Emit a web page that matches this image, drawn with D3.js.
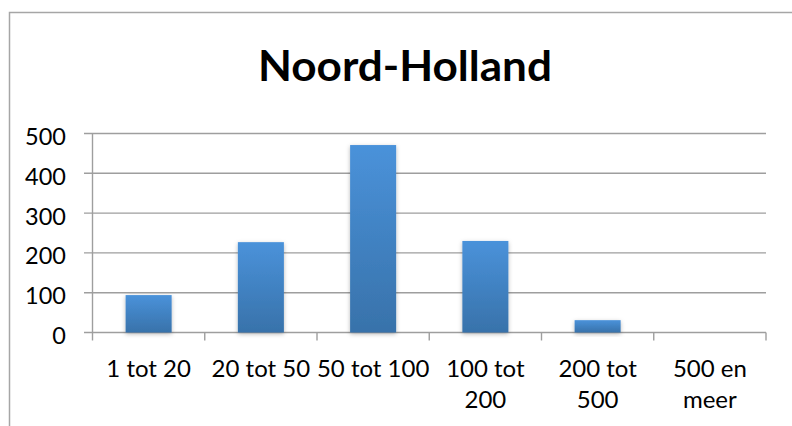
<!DOCTYPE html>
<html><head><meta charset="utf-8">
<script src="https://cdn.jsdelivr.net/npm/d3@7"></script>
<style>html,body{margin:0;padding:0;background:#fff;}svg{display:block;}</style>
</head><body>
<svg id="c" width="792" height="426"></svg>
<script>
const title = "Noord-Holland";
const categories = ["1 tot 20", "20 tot 50", "50 tot 100", "100 tot\n200", "200 tot\n500", "500 en\nmeer"];
const values = [94, 227, 471, 230, 31, 0];
const yTicks = [0, 100, 200, 300, 400, 500];

const svg = d3.select("#c");
const FONT = "Lato, 'Open Sans', sans-serif";
const gridColor = "#9e9e9e";

// frame
svg.append("path").attr("d", "M9.5,426 V12.5 H792").attr("fill", "none")
  .attr("stroke", "#a6a6a6").attr("stroke-width", 1.5);

const x = d3.scaleBand().domain(categories).range([92.5, 766]).padding(0);
const y = d3.scaleLinear().domain([0, 500]).range([332.5, 133.5]);

// defs
const defs = svg.append("defs");
const grad = defs.append("linearGradient").attr("id", "bg").attr("x1", 0).attr("y1", 0).attr("x2", 0).attr("y2", 1);
grad.append("stop").attr("offset", "0%").attr("stop-color", "#4a92da");
grad.append("stop").attr("offset", "100%").attr("stop-color", "#3872aa");
const f = defs.append("filter").attr("id", "sh").attr("x", "-30%").attr("y", "-30%").attr("width", "160%").attr("height", "160%");
f.append("feDropShadow").attr("dx", 0).attr("dy", 1.5).attr("stdDeviation", 2).attr("flood-color", "#000").attr("flood-opacity", 0.28);

// gridlines
svg.append("g").selectAll("line").data(yTicks).join("line")
  .attr("x1", 84).attr("x2", 766)
  .attr("y1", d => y(d)).attr("y2", d => y(d))
  .attr("stroke", gridColor).attr("stroke-width", 1.4);

// y axis line
svg.append("line").attr("x1", 92.5).attr("x2", 92.5).attr("y1", y(500)).attr("y2", 340.5)
  .attr("stroke", gridColor).attr("stroke-width", 1.4);

// x ticks at band boundaries
const bounds = categories.map(c => x(c)).concat([x.range()[1]]).slice(1);
svg.append("g").selectAll("line").data(bounds).join("line")
  .attr("x1", d => d).attr("x2", d => d).attr("y1", y(0)).attr("y2", 340.5)
  .attr("stroke", gridColor).attr("stroke-width", 1.4);

// bars
const bw = x.bandwidth() * 0.41;
svg.append("g").selectAll("rect").data(categories.map((c, i) => ({c, v: values[i]})).filter(d => d.v > 0)).join("rect")
  .attr("x", d => x(d.c) + (x.bandwidth() - bw) / 2)
  .attr("y", d => y(d.v)).attr("width", bw).attr("height", d => y(0) - y(d.v))
  .attr("fill", "url(#bg)").attr("filter", "url(#sh)");

// y labels
svg.append("g").selectAll("text").data(yTicks).join("text")
  .attr("x", 66).attr("y", d => y(d) + 11.5).attr("text-anchor", "end")
  .attr("font-family", FONT).attr("font-size", 23.5).attr("fill", "#000")
  .text(d => d);

// x labels
const xl = svg.append("g").selectAll("text").data(categories).join("text")
  .attr("text-anchor", "middle").attr("font-family", FONT).attr("font-size", 24).attr("fill", "#000");
xl.each(function(c) {
  const t = d3.select(this);
  c.split("\n").forEach((line, k) => {
    t.append("tspan").attr("x", x(c) + x.bandwidth() / 2).attr("y", 377 + k * 31).text(line);
  });
});

// title
svg.append("text").attr("x", 405).attr("y", 81).attr("text-anchor", "middle")
  .attr("font-family", FONT).attr("font-weight", "bold").attr("font-size", 42).attr("fill", "#000")
  .attr("textLength", 294).attr("lengthAdjust", "spacingAndGlyphs")
  .text(title);
</script>
</body></html>
